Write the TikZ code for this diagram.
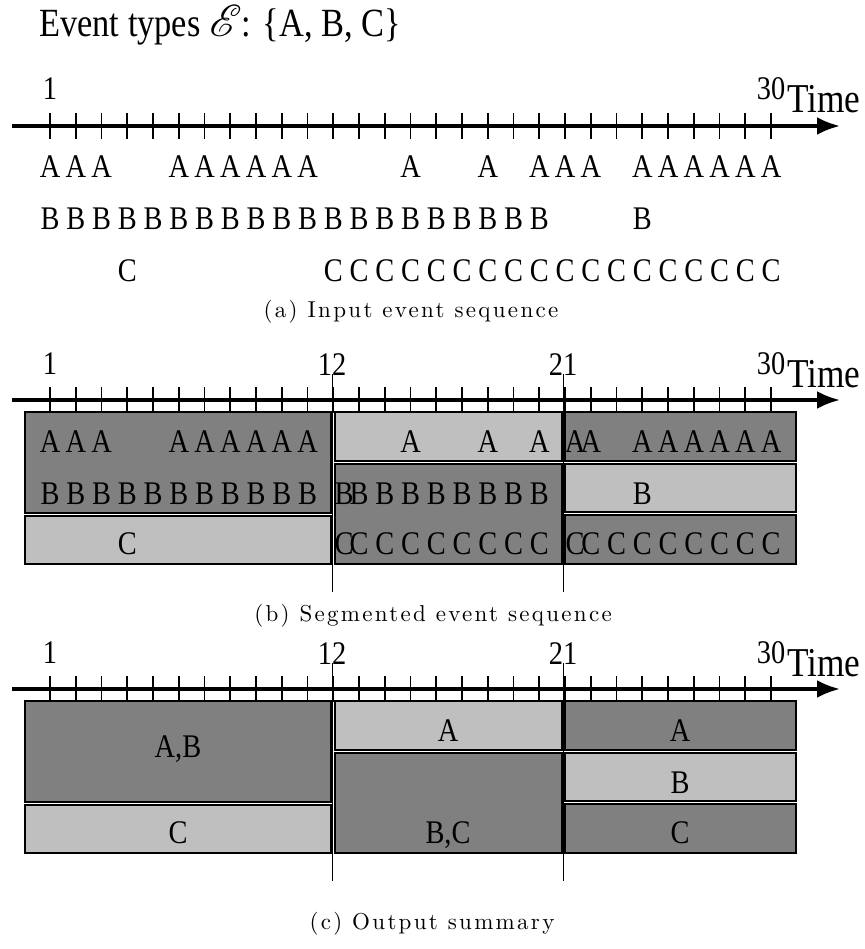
\documentclass[tikz,border=0pt]{standalone}
\usepackage{fontspec}
\usepackage{mathrsfs}
\usetikzlibrary{arrows.meta}
\newfontfamily\timesfont[FakeStretch=0.86]{Liberation Serif}
\newfontfamily\capfont[Extension=.otf,LetterSpace=10]{lmroman10-regular}
\definecolor{segdark}{gray}{0.5}
\definecolor{seglight}{gray}{0.75}
\tikzset{
  headtext/.style={font=\timesfont\fontsize{40}{40}\selectfont,inner sep=0pt,anchor=base west},
  evt/.style={font=\timesfont\fontsize{33}{33}\selectfont,inner sep=0pt,anchor=base},
  tlabel/.style={font=\timesfont\fontsize{33}{33}\selectfont,inner sep=0pt,anchor=base},
  timelbl/.style={font=\timesfont\fontsize{41}{41}\selectfont,inner sep=0pt,anchor=base west},
  captext/.style={font=\capfont\fontsize{23}{23}\selectfont,inner sep=0pt},
  segbox/.style={draw=black,line width=2pt},
  tickmark/.style={line width=1.8pt},
  segline/.style={line width=1.6pt}
}
\begin{document}
\begin{tikzpicture}[x=1pt,y=-1pt,>={Latex[length=23pt,width=18pt]}]
\useasboundingbox (0,0) rectangle (864,949);
\node[headtext] (head) at (39,37) {Event types \scalebox{1.75}[1.8]{$\mathscr{E}$}: \{A, B, C\}};
% segment boxes of (b) and (c)
\foreach \Y in {400,689}{
  \draw[segbox,fill=segdark] (25,{\Y+12}) rectangle (330.5,{\Y+113});\draw[segbox,fill=seglight] (25,{\Y+115.5}) rectangle (330.5,{\Y+164});
  \draw[segbox,fill=seglight] (334.5,{\Y+12}) rectangle (561.5,{\Y+61});\draw[segbox,fill=segdark] (334.5,{\Y+63.5}) rectangle (561.5,{\Y+164});
  \draw[segbox,fill=segdark] (565,{\Y+12}) rectangle (796,{\Y+61});\draw[segbox,fill=seglight] (565,{\Y+64}) rectangle (796,{\Y+112.3});
  \draw[segbox,fill=segdark] (565,{\Y+115}) rectangle (796,{\Y+164});
  \draw[segline] (332.5,{\Y-26}) -- (332.5,{\Y+192});\draw[segline] (563.3,{\Y-26}) -- (563.3,{\Y+192});
}
% time axes
\foreach \p/\Y in {a/126,b/400,c/689}{
  \draw[->,line width=3.6pt] (12,\Y) -- (840,\Y);
  \foreach \i in {0,...,28} \draw[tickmark] ({50+25.75*\i},{\Y-13}) -- ({50+25.75*\i},{\Y+13});
  \node[tlabel] (one-\p) at (50,{\Y-26}) {1};
  \node[tlabel] (thirty-\p) at (771,{\Y-26}) {30};
  \node[timelbl] (time-\p) at (787,{\Y-13}) {Time};
}
\foreach \p/\Y in {b/400,c/689}{
  \node[tlabel] (twelve-\p) at (332,{\Y-25}) {12};\node[tlabel] (twentyone-\p) at (563,{\Y-25}) {21};
}
% (a) input sequence
\foreach \i [count=\n] in {0,1,2,5,6,7,8,9,10,14,17,19,20,21,23,24,25,26,27,28}
  \node[evt] (a-A\n) at ({50+25.75*\i},178) {A};
\foreach \i [count=\n] in {0,...,19,23}
  \node[evt] (a-B\n) at ({50+25.75*\i},230) {B};
\foreach \i [count=\n] in {3,11,12,...,28}
  \node[evt] (a-C\n) at ({50+25.75*\i},281) {C};
\node[captext] (cap-a) at (411,312) {(a) Input event sequence};
% (b) segmented sequence
\foreach \i [count=\n] in {0,1,2,5,6,7,8,9,10,14,17,19,20.39,21,23,24,25,26,27,28}
  \node[evt] (b-A\n) at ({50+25.75*\i},452) {A};
\foreach \i [count=\n] in {0,...,10,11.42,12,13,...,19,23}
  \node[evt] (b-B\n) at ({50+25.75*\i},504) {B};
\foreach \i [count=\n] in {3,11.42,12,13,...,19,20.39,21,22,...,28}
  \node[evt] (b-C\n) at ({50+25.75*\i},554) {C};
\node[captext] (cap-b) at (433,616) {(b) Segmented event sequence};
% (c) output summary
\node[evt] (c-AB) at (178,757) {A,B};\node[evt] (c-C1) at (178,843) {C};
\node[evt] (c-A2) at (448,741) {A};\node[evt] (c-BC) at (448,843) {B,C};
\node[evt] (c-A3) at (680,741) {A};\node[evt] (c-B3) at (680,793) {B};\node[evt] (c-C3) at (680,843) {C};
\node[captext] (cap-c) at (432,924) {(c) Output summary};
\end{tikzpicture}
\end{document}
